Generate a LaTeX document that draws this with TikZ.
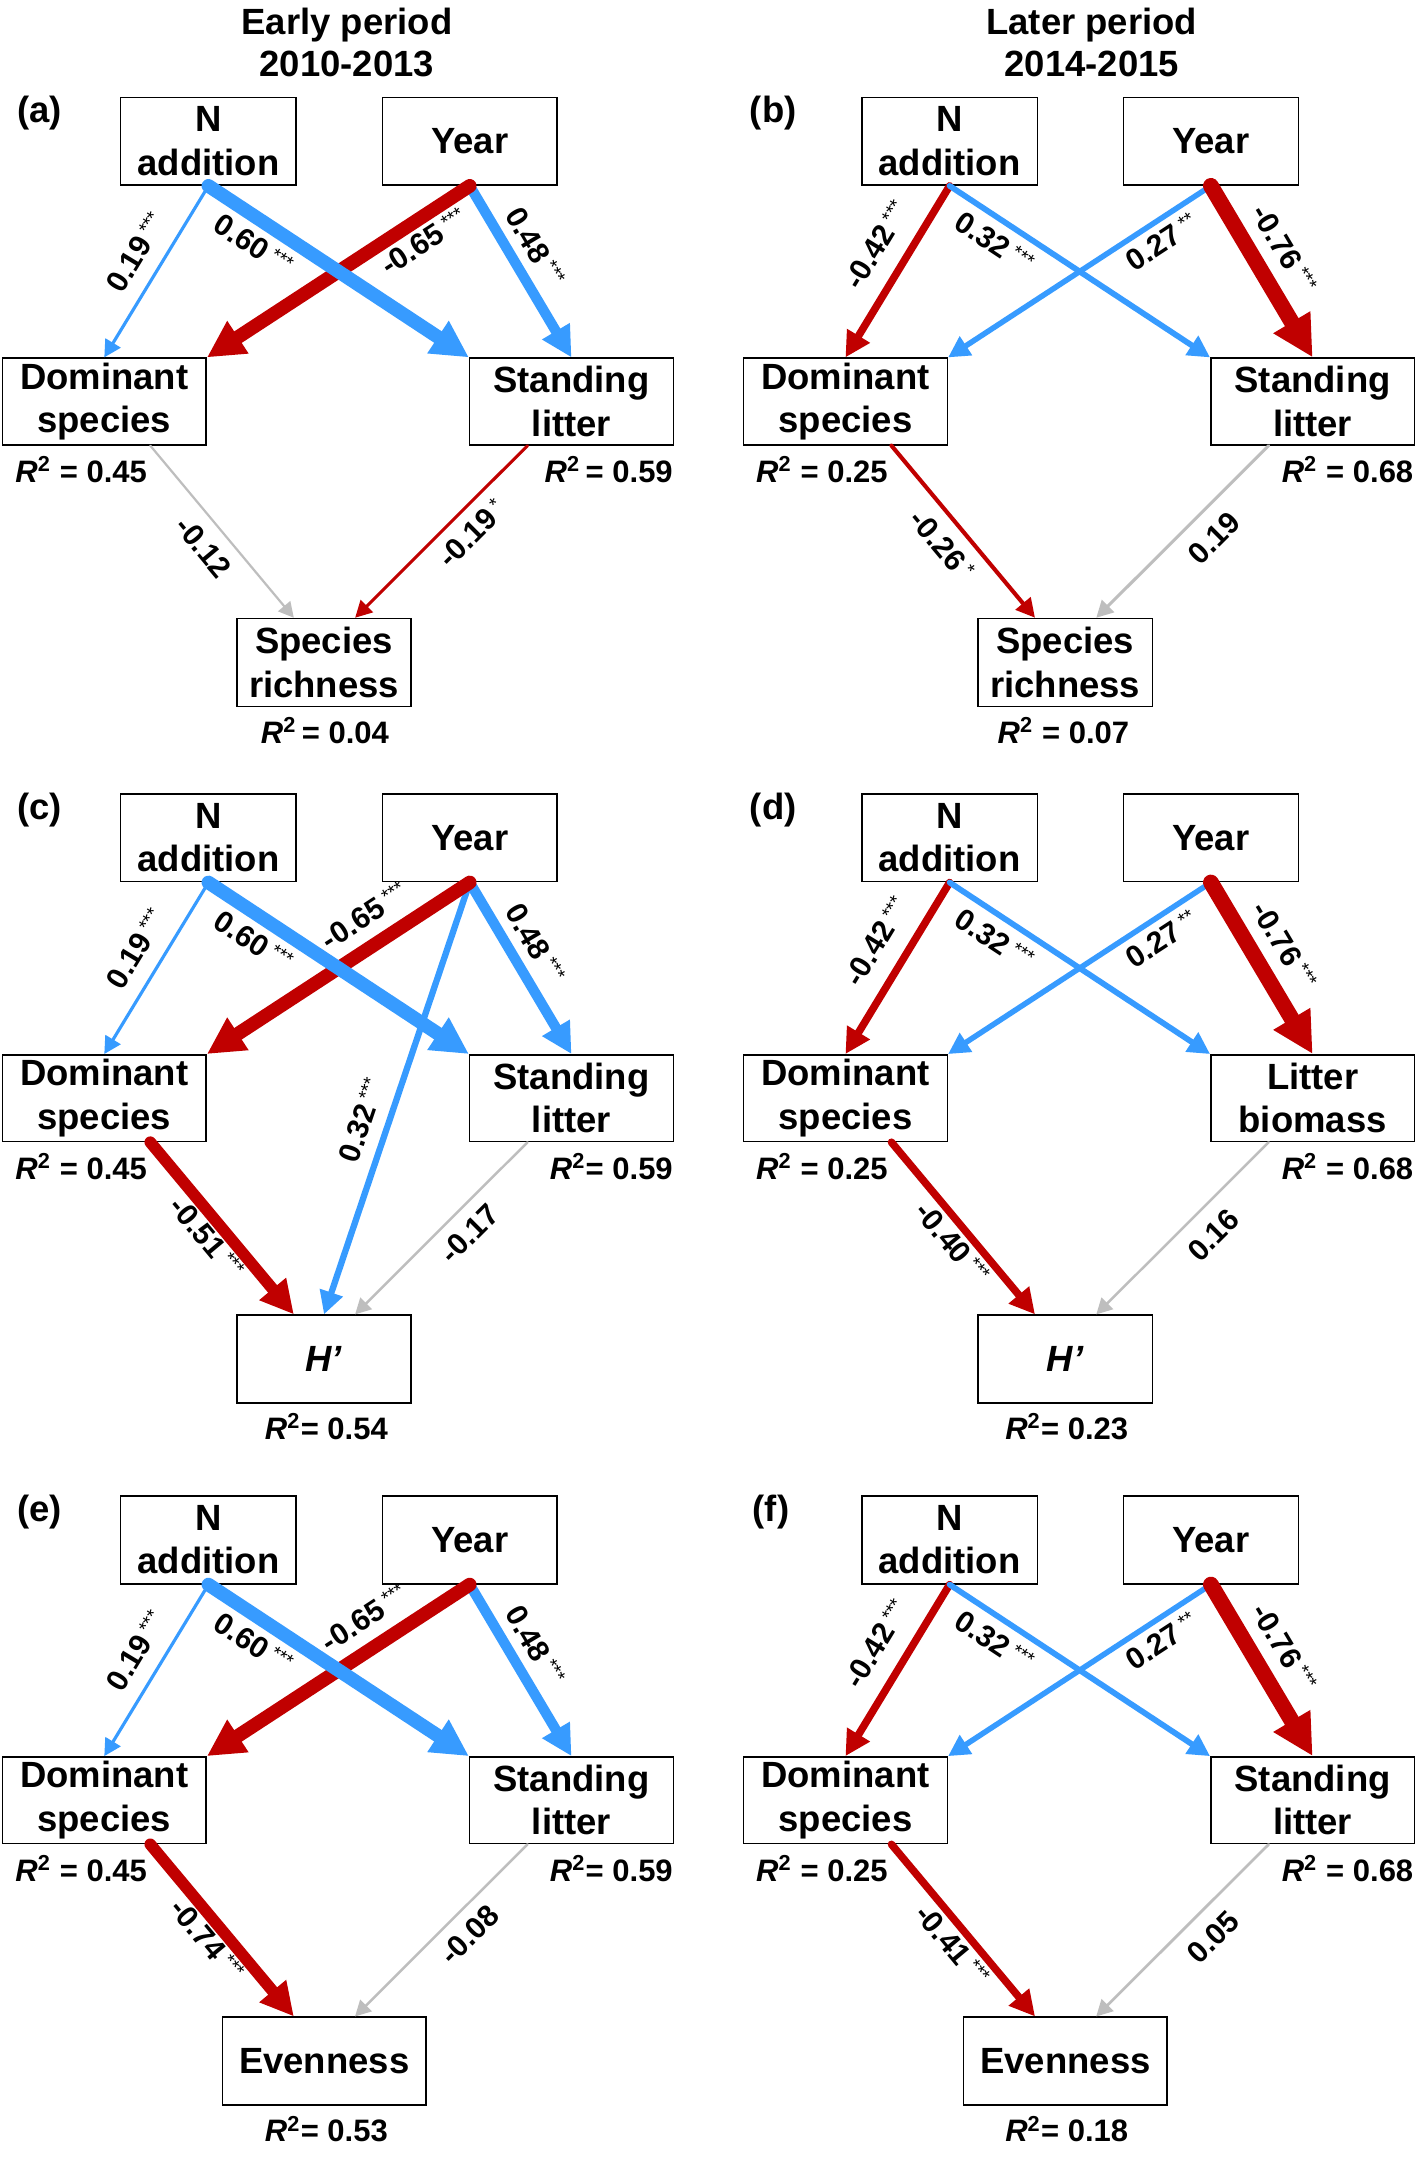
\documentclass[tikz,border=0pt]{standalone}
\usepackage{fontspec}
\setmainfont{Liberation Sans}
\usetikzlibrary{arrows.meta,calc}
\definecolor{cblue}{RGB}{55,155,255}
\definecolor{cred}{RGB}{192,0,0}
\definecolor{cgray}{RGB}{190,190,190}
\newcommand\sig[1]{\,\raisebox{3pt}{\fontsize{7}{7}\selectfont\mdseries #1}}
\newcommand\rsqs[1]{\textit{R}\textsuperscript{2} = #1}
\newcommand\rsqt[1]{\textit{R}\textsuperscript{2}\,= #1}
\newcommand\rsqn[1]{\textit{R}\textsuperscript{2}= #1}
\tikzset{
  box/.style={draw=black, line width=0.55pt, rectangle, inner sep=0pt, align=center,
              font=\fontsize{13.3}{15.8}\selectfont\bfseries},
  tbox/.style={box, minimum width=64pt, minimum height=32pt},
  wbox/.style={box, minimum width=74.3pt, minimum height=31.6pt},
  arr/.style={line cap=round, -{Triangle[length=4pt 1.9, width=4.25pt 1.8]}},
  lbl/.style={font=\fontsize{11}{11}\selectfont\bfseries, inner sep=0pt,
              sloped, anchor=center, text=black},
  rsq/.style={font=\fontsize{11.3}{11.3}\selectfont\bfseries, inner sep=0pt},
  plabel/.style={font=\fontsize{13.3}{15.8}\selectfont\bfseries, inner sep=0pt},
  ttl/.style={font=\fontsize{13.3}{15.45}\selectfont\bfseries, inner sep=0pt, align=center},
}
\begin{document}
\begin{tikzpicture}[x=0.5pt,y=-0.5pt]
\fill[white] (0,0) rectangle (1035,1573);
\path[use as bounding box] (0,0) rectangle (1035,1573);

\node[ttl] (t1) at (253,31) {Early period\\2010-2013};
\node[ttl] (t2) at (796.2,31) {Later period\\2014-2015};

% ---------------- (a)
\begin{scope}
\node[plabel] (aL) at (28.9,82.2) {(a)};
\node[tbox] (aN) at (152,103) {N\\addition};
\node[tbox, minimum width=63.75pt] (aY) at (342.55,103) {Year};
\node[wbox] (aD) at (76.05,292.8) {Dominant\\species};
\node[wbox, minimum width=74.25pt] (aS) at (416.75,292.8) {Standing\\litter};
\node[tbox, minimum width=63.5pt] (aR) at (236.3,483.05) {Species\\richness};
\node[rsq, anchor=base east] (aRD) at (107.5,352) {\rsqs{0.45}};
\node[rsq, anchor=base east] (aRS) at (491,352) {\rsqt{0.59}};
\node[rsq, anchor=base] (aRR) at (237,542) {\rsqt{0.04}};
\draw[arr, draw=cblue, line width=1.15pt] (aN.south) -- (aD.north)
  node[lbl, pos=0.47, yshift=10pt] {0.19\sig{***}};
\draw[arr, draw=cblue, line width=3.75pt] (aY.south) -- (aS.north)
  node[lbl, pos=0.43, yshift=9.2pt] {0.48\sig{***}};
\draw[arr, draw=cred, line width=5pt] (aY.south) -- (aD.north east)
  node[lbl, pos=0.22, yshift=-7.8pt] {-0.65\sig{***}};
\draw[arr, draw=cblue, line width=5pt] (aN.south) -- (aS.north west)
  node[lbl, pos=0.224, yshift=-8.9pt] {0.60\sig{***}};
\draw[arr, draw=cgray, line width=0.8pt] ($(aD.south west)!0.724!(aD.south east)$) -- ($(aR.north west)!0.328!(aR.north east)$)
  node[lbl, pos=0.5, yshift=-8.75pt] {-0.12};
\draw[arr, draw=cred, line width=1.1pt] ($(aS.south west)!0.286!(aS.south east)$) -- ($(aR.north west)!0.677!(aR.north east)$)
  node[lbl, pos=0.416, yshift=-8.25pt] {-0.19\sig{*}};
\end{scope}

% ---------------- (b)
\begin{scope}[shift={(540.5,0)}]
\node[plabel] (bL) at (23.4,82.2) {(b)};
\node[tbox] (bN) at (152,103) {N\\addition};
\node[tbox, minimum width=63.75pt] (bY) at (342.55,103) {Year};
\node[wbox] (bD) at (76.05,292.8) {Dominant\\species};
\node[wbox, minimum width=74.25pt] (bS) at (416.75,292.8) {Standing\\litter};
\node[tbox, minimum width=63.5pt] (bR) at (236.3,483.05) {Species\\richness};
\node[rsq, anchor=base east] (bRD) at (107.2,352) {\rsqs{0.25}};
\node[rsq, anchor=base east] (bRS) at (490.5,352) {\rsqs{0.68}};
\node[rsq, anchor=base] (bRR) at (235,542) {\rsqs{0.07}};
\draw[arr, draw=cblue, line width=2pt] (bY.south) -- (bD.north east)
  node[lbl, pos=0.23, yshift=-7.4pt] {0.27\sig{**}};
\draw[arr, draw=cred, line width=2.75pt] (bN.south) -- (bD.north)
  node[lbl, pos=0.44, yshift=11.6pt] {-0.42\sig{***}};
\draw[arr, draw=cblue, line width=2.1pt] (bN.south) -- (bS.north west)
  node[lbl, pos=0.22, yshift=-8.3pt] {0.32\sig{***}};
\draw[arr, draw=cred, line width=5.75pt] (bY.south) -- (bS.north)
  node[lbl, pos=0.46, yshift=11.3pt] {-0.76\sig{***}};
\draw[arr, draw=cred, line width=1.5pt] ($(bD.south west)!0.724!(bD.south east)$) -- ($(bR.north west)!0.328!(bR.north east)$)
  node[lbl, pos=0.485, yshift=-9pt] {-0.26\sig{*}};
\draw[arr, draw=cgray, line width=1.1pt] ($(bS.south west)!0.286!(bS.south east)$) -- ($(bR.north west)!0.677!(bR.north east)$)
  node[lbl, pos=0.426, yshift=-9.85pt] {0.19};
\end{scope}

% ---------------- (c)
\begin{scope}[shift={(0,508)}]
\node[plabel] (cL) at (28.9,82.6) {(c)};
\node[tbox] (cN) at (152,103) {N\\addition};
\node[tbox, minimum width=63.75pt] (cY) at (342.55,103) {Year};
\node[wbox] (cD) at (76.05,292.8) {Dominant\\species};
\node[wbox, minimum width=74.25pt] (cS) at (416.75,292.8) {Standing\\litter};
\node[tbox, minimum width=63.5pt] (cR) at (236.3,483.05) {\textit{H'}};
\node[rsq, anchor=base east] (cRD) at (107.5,352) {\rsqs{0.45}};
\node[rsq, anchor=base east] (cRS) at (491,352) {\rsqn{0.59}};
\node[rsq, anchor=base] (cRR) at (238,542) {\rsqn{0.54}};
\draw[arr, draw=cblue, line width=1.15pt] (cN.south) -- (cD.north)
  node[lbl, pos=0.47, yshift=10pt] {0.19\sig{***}};
\draw[arr, draw=cblue, line width=3.75pt] (cY.south) -- (cS.north)
  node[lbl, pos=0.43, yshift=9.2pt] {0.48\sig{***}};
\draw[arr, draw=cblue, line width=2.3pt] (cY.south) -- (cR.north)
  node[lbl, pos=0.57, yshift=9.7pt] {0.32\sig{***}};
\draw[arr, draw=cred, line width=5pt] (cY.south) -- (cD.north east)
  node[lbl, pos=0.34, yshift=10.85pt] {-0.65\sig{***}};
\draw[arr, draw=cblue, line width=5pt] (cN.south) -- (cS.north west)
  node[lbl, pos=0.224, yshift=-8.9pt] {0.60\sig{***}};
\draw[arr, draw=cred, line width=4.25pt] ($(cD.south west)!0.724!(cD.south east)$) -- ($(cR.north west)!0.328!(cR.north east)$)
  node[lbl, pos=0.49, yshift=-6.5pt] {-0.51\sig{***}};
\draw[arr, draw=cgray, line width=0.9pt] ($(cS.south west)!0.286!(cS.south east)$) -- ($(cR.north west)!0.677!(cR.north east)$)
  node[lbl, pos=0.433, yshift=-8.6pt] {-0.17};
\end{scope}

% ---------------- (d)
\begin{scope}[shift={(540.5,508)}]
\node[plabel] (dL) at (23.4,82.6) {(d)};
\node[tbox] (dN) at (152,103) {N\\addition};
\node[tbox, minimum width=63.75pt] (dY) at (342.55,103) {Year};
\node[wbox] (dD) at (76.05,292.8) {Dominant\\species};
\node[wbox, minimum width=74.25pt] (dS) at (416.75,292.8) {Litter\\biomass};
\node[tbox, minimum width=63.5pt] (dR) at (236.3,483.05) {\textit{H'}};
\node[rsq, anchor=base east] (dRD) at (107.2,352) {\rsqs{0.25}};
\node[rsq, anchor=base east] (dRS) at (490.5,352) {\rsqs{0.68}};
\node[rsq, anchor=base] (dRR) at (237.4,542) {\rsqn{0.23}};
\draw[arr, draw=cblue, line width=2pt] (dY.south) -- (dD.north east)
  node[lbl, pos=0.23, yshift=-7.4pt] {0.27\sig{**}};
\draw[arr, draw=cred, line width=2.75pt] (dN.south) -- (dD.north)
  node[lbl, pos=0.44, yshift=11.6pt] {-0.42\sig{***}};
\draw[arr, draw=cblue, line width=2.1pt] (dN.south) -- (dS.north west)
  node[lbl, pos=0.22, yshift=-8.3pt] {0.32\sig{***}};
\draw[arr, draw=cred, line width=5.75pt] (dY.south) -- (dS.north)
  node[lbl, pos=0.46, yshift=11.3pt] {-0.76\sig{***}};
\draw[arr, draw=cred, line width=2.75pt] ($(dD.south west)!0.724!(dD.south east)$) -- ($(dR.north west)!0.328!(dR.north east)$)
  node[lbl, pos=0.52, yshift=-6.5pt] {-0.40\sig{***}};
\draw[arr, draw=cgray, line width=0.9pt] ($(dS.south west)!0.286!(dS.south east)$) -- ($(dR.north west)!0.677!(dR.north east)$)
  node[lbl, pos=0.43, yshift=-9.75pt] {0.16};
\end{scope}

% ---------------- (e)
\begin{scope}[shift={(0,1020)}]
\node[plabel] (eL) at (28.9,83) {(e)};
\node[tbox] (eN) at (152,103) {N\\addition};
\node[tbox, minimum width=63.75pt] (eY) at (342.55,103) {Year};
\node[wbox] (eD) at (76.05,292.8) {Dominant\\species};
\node[wbox, minimum width=74.25pt] (eS) at (416.75,292.8) {Standing\\litter};
\node[tbox, minimum width=74.25pt] (eR) at (236.45,483.05) {Evenness};
\node[rsq, anchor=base east] (eRD) at (107.5,352) {\rsqs{0.45}};
\node[rsq, anchor=base east] (eRS) at (491,352) {\rsqn{0.59}};
\node[rsq, anchor=base] (eRR) at (238,542) {\rsqn{0.53}};
\draw[arr, draw=cblue, line width=1.15pt] (eN.south) -- (eD.north)
  node[lbl, pos=0.47, yshift=10pt] {0.19\sig{***}};
\draw[arr, draw=cblue, line width=3.75pt] (eY.south) -- (eS.north)
  node[lbl, pos=0.43, yshift=9.2pt] {0.48\sig{***}};
\draw[arr, draw=cred, line width=5pt] (eY.south) -- (eD.north east)
  node[lbl, pos=0.34, yshift=10.85pt] {-0.65\sig{***}};
\draw[arr, draw=cblue, line width=5pt] (eN.south) -- (eS.north west)
  node[lbl, pos=0.224, yshift=-8.9pt] {0.60\sig{***}};
\draw[arr, draw=cred, line width=4.25pt] ($(eD.south west)!0.724!(eD.south east)$) -- ($(eR.north west)!0.352!(eR.north east)$)
  node[lbl, pos=0.49, yshift=-6.5pt] {-0.74\sig{***}};
\draw[arr, draw=cgray, line width=0.9pt] ($(eS.south west)!0.286!(eS.south east)$) -- ($(eR.north west)!0.650!(eR.north east)$)
  node[lbl, pos=0.43, yshift=-8.5pt] {-0.08};
\end{scope}

% ---------------- (f)
\begin{scope}[shift={(540.5,1020)}]
\node[plabel] (fL) at (21.7,83) {(f)};
\node[tbox] (fN) at (152,103) {N\\addition};
\node[tbox, minimum width=63.75pt] (fY) at (342.55,103) {Year};
\node[wbox] (fD) at (76.05,292.8) {Dominant\\species};
\node[wbox, minimum width=74.25pt] (fS) at (416.75,292.8) {Standing\\litter};
\node[tbox, minimum width=74.25pt] (fR) at (236.45,483.05) {Evenness};
\node[rsq, anchor=base east] (fRD) at (107.2,352) {\rsqs{0.25}};
\node[rsq, anchor=base east] (fRS) at (490.5,352) {\rsqs{0.68}};
\node[rsq, anchor=base] (fRR) at (237.4,542) {\rsqn{0.18}};
\draw[arr, draw=cblue, line width=2pt] (fY.south) -- (fD.north east)
  node[lbl, pos=0.23, yshift=-7.4pt] {0.27\sig{**}};
\draw[arr, draw=cred, line width=2.75pt] (fN.south) -- (fD.north)
  node[lbl, pos=0.44, yshift=11.6pt] {-0.42\sig{***}};
\draw[arr, draw=cblue, line width=2.1pt] (fN.south) -- (fS.north west)
  node[lbl, pos=0.22, yshift=-8.3pt] {0.32\sig{***}};
\draw[arr, draw=cred, line width=5.75pt] (fY.south) -- (fS.north)
  node[lbl, pos=0.46, yshift=11.3pt] {-0.76\sig{***}};
\draw[arr, draw=cred, line width=2.75pt] ($(fD.south west)!0.724!(fD.south east)$) -- ($(fR.north west)!0.352!(fR.north east)$)
  node[lbl, pos=0.52, yshift=-6.5pt] {-0.41\sig{***}};
\draw[arr, draw=cgray, line width=1pt] ($(fS.south west)!0.286!(fS.south east)$) -- ($(fR.north west)!0.650!(fR.north east)$)
  node[lbl, pos=0.43, yshift=-9.75pt] {0.05};
\end{scope}
\end{tikzpicture}
\end{document}
